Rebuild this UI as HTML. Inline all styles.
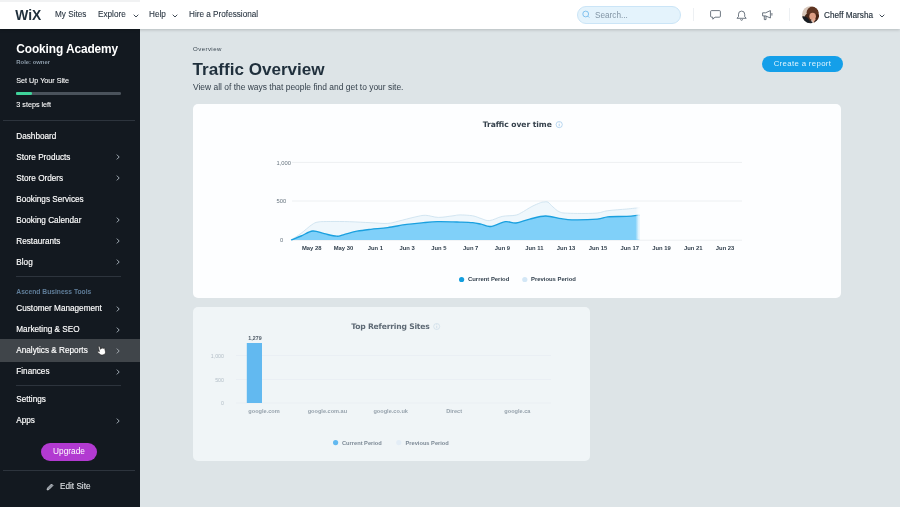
<!DOCTYPE html>
<html><head><meta charset="utf-8">
<style>
*{box-sizing:border-box;margin:0;padding:0}
html,body{width:900px;height:507px;overflow:hidden;background:#dde4e7;font-family:"Liberation Sans",sans-serif;color:#162d3d}
#top{position:absolute;left:0;top:0;width:900px;height:29px;background:#fff;box-shadow:0 1px 3px rgba(0,0,0,.18);z-index:5}
#top .t{position:absolute;top:10.2px;font-size:8.2px;color:#2b3743;white-space:nowrap;line-height:10px;-webkit-text-stroke:0.1px #2b3743}
#side{position:absolute;left:0;top:29px;width:140px;height:478px;background:#131920}
#side .m{position:absolute;left:16.3px;font-size:8.2px;color:#fff;white-space:nowrap;line-height:10px;-webkit-text-stroke:0.15px #fff}
#side .ch{position:absolute;left:115.9px;width:4px;height:6px}
.hr{position:absolute;left:2.5px;width:132px;height:1px;background:#2d343d}
.card{position:absolute;background:#fff;border-radius:6px}
svg text{font-family:"Liberation Sans",sans-serif}
svg text.dj{font-family:"DejaVu Sans","Liberation Sans",sans-serif}
</style></head><body>

<div id="top">
  <div style="position:absolute;left:0;top:0;width:140px;height:1.5px;background:#f1f2f3"></div>
  <svg style="position:absolute;left:15px;top:8px" width="28" height="14" viewBox="0 0 28 14"><text x="0.3" y="12.1" font-size="14" font-weight="bold" fill="#20303c" textLength="26" lengthAdjust="spacingAndGlyphs">WiX</text></svg>
  <div class="t" style="left:55px">My Sites</div>
  <div class="t" style="left:98px">Explore</div>
  <svg style="position:absolute;left:133px;top:13.6px" width="6" height="4" viewBox="0 0 6 4"><path d="M0.7 0.7L3 3L5.3 0.7" fill="none" stroke="#2b3743" stroke-width="0.9"/></svg>
  <div class="t" style="left:149px">Help</div>
  <svg style="position:absolute;left:172px;top:13.6px" width="6" height="4" viewBox="0 0 6 4"><path d="M0.7 0.7L3 3L5.3 0.7" fill="none" stroke="#2b3743" stroke-width="0.9"/></svg>
  <div class="t" style="left:189px">Hire a Professional</div>

  <div style="position:absolute;left:577px;top:5.9px;width:104px;height:17.7px;border-radius:9px;background:#e4f3fc;border:1px solid #cbe5f7"></div>
  <svg style="position:absolute;left:582px;top:10px" width="9" height="9" viewBox="0 0 9 9"><circle cx="3.7" cy="4" r="2.9" fill="none" stroke="#62b1ea" stroke-width="0.75"/><path d="M5.8 6.100L7.300 7.600" stroke="#62b1ea" stroke-width="0.75"/></svg>
  <div class="t" style="left:595px;top:10.6px;color:#8295a5;-webkit-text-stroke:0">Search...</div>
  <div style="position:absolute;left:692.5px;top:8px;width:1px;height:13px;background:#edf0f3"></div>
  <svg style="position:absolute;left:710px;top:10.2px" width="11" height="10" viewBox="0 0 11 10"><path d="M1.6 0.6h7.8a1 1 0 0 1 1 1v4.6a1 1 0 0 1-1 1H5L2.8 9.200V7.200H1.600a1 1 0 0 1-1-1V1.600a1 1 0 0 1 1-1z" fill="none" stroke="#4a5662" stroke-width="0.8" stroke-linejoin="round"/></svg>
  <svg style="position:absolute;left:736px;top:10px" width="11" height="11" viewBox="0 0 11 11"><path d="M1 8.300h9.200L8.700 6.500V4.200a3.100 3.100 0 0 0-6.200 0v2.300z" fill="none" stroke="#4a5662" stroke-width="0.8" stroke-linejoin="round"/><path d="M4.600 9.300a1 1 0 0 0 2 0" fill="none" stroke="#4a5662" stroke-width="0.8"/></svg>
  <svg style="position:absolute;left:761.500px;top:10.300px" width="11" height="11" viewBox="0 0 11 11"><path d="M0.600 2.800h3L8.400 0.600v7.400L3.600 5.900H0.600z M2.300 6v3.600h1.700V6" fill="none" stroke="#4a5662" stroke-width="0.8" stroke-linejoin="round"/><path d="M9.900 3v2.600" stroke="#4a5662" stroke-width="0.8"/></svg>
  <div style="position:absolute;left:788.700px;top:8px;width:1px;height:13px;background:#edf0f3"></div>
  <svg style="position:absolute;left:801.7px;top:6.3px" width="17.2" height="17.4" viewBox="0 0 34 34"><defs><clipPath id="av"><circle cx="17" cy="17" r="17"/></clipPath><filter id="bl"><feGaussianBlur stdDeviation="1.2"/></filter></defs><g clip-path="url(#av)"><rect width="34" height="34" fill="#d8c8bc"/><g filter="url(#bl)"><ellipse cx="21" cy="13" rx="12" ry="12" fill="#5e3622"/><ellipse cx="12" cy="24" rx="7" ry="9" fill="#4a2a1c"/><ellipse cx="30" cy="24" rx="5" ry="9" fill="#4a2818"/><ellipse cx="21" cy="20" rx="6.5" ry="7" fill="#dd9d82"/><ellipse cx="24" cy="28" rx="3" ry="5" fill="#e3a88f"/><path d="M-2 21C7 18 14 23 18 36L-2 36z" fill="#181b22"/><path d="M14 30C18 28 20 30 22 36L12 36z" fill="#20222a"/><ellipse cx="30" cy="32" rx="6" ry="5" fill="#2a1a16"/></g></g></svg>
  <div class="t" style="left:824px;top:10.9px;color:#25313c;-webkit-text-stroke:0.15px #25313c">Cheff Marsha</div>
  <svg style="position:absolute;left:879px;top:13.6px" width="6" height="4" viewBox="0 0 6 4"><path d="M0.7 0.7L3 3L5.3 0.7" fill="none" stroke="#2b3743" stroke-width="0.9"/></svg>
</div>

<div id="side">
  <div class="m" style="top:12.5px;font-size:11.9px;font-weight:bold;line-height:14px;letter-spacing:-0.1px;-webkit-text-stroke:0">Cooking Academy</div>
  <div class="m" style="top:30px;font-size:5.9px;color:#8b9aa8;font-weight:bold;line-height:7px;-webkit-text-stroke:0">Role: owner</div>
  <div class="m" style="top:47.8px;font-size:7.2px;line-height:8px;-webkit-text-stroke:0.08px #fff">Set Up Your Site</div>
  <div style="position:absolute;left:16.3px;top:63.200px;width:104.5px;height:2.5px;border-radius:1.3px;background:#4a525b"></div>
  <div style="position:absolute;left:16.3px;top:63.200px;width:16px;height:2.5px;border-radius:1.3px;background:#3fd39a"></div>
  <div class="m" style="top:71.5px;font-size:7.2px;line-height:8px;-webkit-text-stroke:0.08px #fff">3 steps left</div>
  <div class="hr" style="top:91px"></div>

  <div class="m" style="top:103.1px">Dashboard</div>
  <div class="m" style="top:124.1px">Store Products</div>
  <div class="m" style="top:145.1px">Store Orders</div>
  <div class="m" style="top:166.1px">Bookings Services</div>
  <div class="m" style="top:187.1px">Booking Calendar</div>
  <div class="m" style="top:208.1px">Restaurants</div>
  <div class="m" style="top:229.1px">Blog</div>
  <div class="hr" style="top:247px;left:16px;width:105px"></div>
  <div class="m" style="top:259px;font-size:6.7px;font-weight:bold;color:#5f7d99;line-height:8px;-webkit-text-stroke:0">Ascend Business Tools</div>
  <div class="m" style="top:275px">Customer Management</div>
  <div class="m" style="top:296.3px">Marketing &amp; SEO</div>
  <div style="position:absolute;left:0;top:309.8px;width:140px;height:23px;background:#40454a"></div>
  <div class="m" style="top:317.3px">Analytics &amp; Reports</div>
  <svg style="position:absolute;left:96px;top:316.3px;transform:rotate(-14deg)" width="10" height="11" viewBox="0 0 10 11"><path d="M3.2 6.2V1.6a.8.8 0 0 1 1.6 0v2.6l.2-.5a.75.75 0 0 1 1.4.2l.2-.2a.7.7 0 0 1 1.3.4l.2-.1a.65.65 0 0 1 1 .6v2.6c0 1.8-1 3-2.8 3H5.4c-1 0-1.7-.5-2.3-1.400L1.300 6.700a.8.8 0 0 1 1.300-.9z" fill="#fff" stroke="#222" stroke-width="0.6" stroke-linejoin="round"/></svg>
  <div class="m" style="top:338px">Finances</div>
  <div class="hr" style="top:356px;left:16px;width:105px"></div>
  <div class="m" style="top:366.2px">Settings</div>
  <div class="m" style="top:387.2px">Apps</div>
    <svg class="ch" style="top:125.1px" viewBox="0 0 4 6"><path d="M0.8 0.6L3.2 3L0.8 5.4" fill="none" stroke="#aab3bc" stroke-width="0.95"/></svg>
  <svg class="ch" style="top:146.1px" viewBox="0 0 4 6"><path d="M0.8 0.6L3.2 3L0.8 5.4" fill="none" stroke="#aab3bc" stroke-width="0.95"/></svg>
  <svg class="ch" style="top:188.1px" viewBox="0 0 4 6"><path d="M0.8 0.6L3.2 3L0.8 5.4" fill="none" stroke="#aab3bc" stroke-width="0.95"/></svg>
  <svg class="ch" style="top:209.1px" viewBox="0 0 4 6"><path d="M0.8 0.6L3.2 3L0.8 5.4" fill="none" stroke="#aab3bc" stroke-width="0.95"/></svg>
  <svg class="ch" style="top:230.1px" viewBox="0 0 4 6"><path d="M0.8 0.6L3.2 3L0.8 5.4" fill="none" stroke="#aab3bc" stroke-width="0.95"/></svg>
  <svg class="ch" style="top:276.5px" viewBox="0 0 4 6"><path d="M0.8 0.6L3.2 3L0.8 5.4" fill="none" stroke="#aab3bc" stroke-width="0.95"/></svg>
  <svg class="ch" style="top:297.8px" viewBox="0 0 4 6"><path d="M0.8 0.6L3.2 3L0.8 5.4" fill="none" stroke="#aab3bc" stroke-width="0.95"/></svg>
  <svg class="ch" style="top:318.8px" viewBox="0 0 4 6"><path d="M0.8 0.6L3.2 3L0.8 5.4" fill="none" stroke="#a4aab0" stroke-width="1"/></svg>
  <svg class="ch" style="top:339.5px" viewBox="0 0 4 6"><path d="M0.8 0.6L3.2 3L0.8 5.4" fill="none" stroke="#aab3bc" stroke-width="0.95"/></svg>
  <svg class="ch" style="top:389.2px" viewBox="0 0 4 6"><path d="M0.8 0.6L3.2 3L0.8 5.4" fill="none" stroke="#aab3bc" stroke-width="0.95"/></svg>
  <div style="position:absolute;left:41px;top:414.1px;width:56px;height:17.6px;border-radius:9px;background:#b23ad1;color:#fff;font-size:8.3px;text-align:center;line-height:17.6px">Upgrade</div>
  <div class="hr" style="top:441px"></div>
  <svg style="position:absolute;left:46px;top:454px" width="8" height="8" viewBox="0 0 8 8"><path d="M1 7l.5-2L5.500 1 7 2.500 3 6.500z" fill="#8f979f" stroke="#d5d9dd" stroke-width="0.7" stroke-linejoin="round"/></svg>
  <div class="m" style="left:60px;top:453px;color:#dde0e4;-webkit-text-stroke:0.1px #dde0e4">Edit Site</div>
</div>

<div style="position:absolute;left:193px;top:44.5px;font-size:6.1px;letter-spacing:0.42px;color:#3a4651;line-height:8px">Overview</div>
<div style="position:absolute;left:192.6px;top:59.5px;font-size:17.1px;font-weight:bold;color:#1f2f3c;line-height:20px;white-space:nowrap">Traffic Overview</div>
<div style="position:absolute;left:193px;top:81.7px;font-size:8.45px;letter-spacing:0;color:#36424d;line-height:10px;white-space:nowrap">View all of the ways that people find and get to your site.</div>
<div style="position:absolute;left:762px;top:55.6px;width:81px;height:16.8px;border-radius:9px;background:#149fe9;color:#def3fd;font-size:7.8px;letter-spacing:0.35px;text-align:center;line-height:16.8px;white-space:nowrap">Create a report</div>

<div class="card" id="c1" style="left:193.3px;top:104.4px;width:648px;height:193.3px;border-radius:5px;background:#fdfeff">
<svg width="648" height="193" viewBox="0 0 648 193" style="position:absolute;left:-0.3px;top:-0.4px">
<defs><linearGradient id="fade" x1="0" x2="1" y1="0" y2="0"><stop offset="0" stop-color="#fff" stop-opacity="0"/><stop offset="1" stop-color="#fff" stop-opacity="1"/></linearGradient></defs>
<text x="324.3" y="23.2" font-size="7.6" font-weight="bold" fill="#36424d" text-anchor="middle" class="dj" textLength="69">Traffic over time</text>
<circle cx="366.2" cy="20.6" r="3.1" fill="none" stroke="#8fc0e8" stroke-width="0.6"/><path d="M366.2 20v2.3M366.2 18.6v0.7" stroke="#8fc0e8" stroke-width="0.7"/>
<path d="M99 58.4H549" stroke="#edf0f2" stroke-width="1"/>
<path d="M99 97.0H549" stroke="#edf0f2" stroke-width="1"/>
<path d="M99 136.2H549" stroke="#edf0f2" stroke-width="1"/>
<path d="M98.0 136.0 C99.7 134.9 104.6 131.9 108.1 129.3 C111.6 126.7 115.8 122.7 118.7 120.8 C121.6 118.9 121.8 118.6 125.0 118.0 C128.2 117.4 132.3 117.6 137.7 117.5 C143.1 117.4 149.9 117.5 156.7 117.7 C163.5 117.9 171.3 118.4 177.8 118.7 C184.3 119.0 190.0 119.7 194.7 119.4 C199.4 119.1 200.6 118.3 205.2 117.2 C209.8 116.1 217.3 114.0 222.0 113.0 C226.7 112.0 228.7 111.2 232.7 111.3 C236.7 111.4 240.7 113.3 245.3 113.4 C249.9 113.5 256.3 112.2 260.0 111.8 C263.7 111.4 263.7 110.9 267.0 110.9 C270.3 110.9 276.1 111.2 279.7 111.8 C283.3 112.4 285.1 113.7 288.0 114.5 C290.9 115.3 293.0 117.0 296.6 116.6 C300.2 116.2 304.9 113.3 309.2 112.4 C313.5 111.5 318.7 111.9 321.9 111.3 C325.1 110.7 325.3 110.3 328.2 108.8 C331.1 107.3 335.5 104.2 338.8 102.5 C342.1 100.8 345.4 99.5 347.5 98.7 C349.6 97.9 349.7 98.1 351.0 98.0 C352.3 97.9 353.5 97.4 355.0 98.2 C356.5 99.0 358.0 101.3 359.9 102.9 C361.8 104.5 363.7 106.6 366.2 107.7 C368.7 108.8 368.6 108.9 374.7 109.2 C380.8 109.5 395.3 109.6 402.1 109.2 C408.9 108.8 409.4 107.4 414.8 106.7 C420.2 106.0 428.4 105.5 433.8 105.0 C439.2 104.5 444.3 103.9 446.4 103.7 L446.4 136.0 L98 136.0 Z" fill="#eff7fc"/>
<path d="M98.0 136.0 C99.7 134.9 104.6 131.9 108.1 129.3 C111.6 126.7 115.8 122.7 118.7 120.8 C121.6 118.9 121.8 118.6 125.0 118.0 C128.2 117.4 132.3 117.6 137.7 117.5 C143.1 117.4 149.9 117.5 156.7 117.7 C163.5 117.9 171.3 118.4 177.8 118.7 C184.3 119.0 190.0 119.7 194.7 119.4 C199.4 119.1 200.6 118.3 205.2 117.2 C209.8 116.1 217.3 114.0 222.0 113.0 C226.7 112.0 228.7 111.2 232.7 111.3 C236.7 111.4 240.7 113.3 245.3 113.4 C249.9 113.5 256.3 112.2 260.0 111.8 C263.7 111.4 263.7 110.9 267.0 110.9 C270.3 110.9 276.1 111.2 279.7 111.8 C283.3 112.4 285.1 113.7 288.0 114.5 C290.9 115.3 293.0 117.0 296.6 116.6 C300.2 116.2 304.9 113.3 309.2 112.4 C313.5 111.5 318.7 111.9 321.9 111.3 C325.1 110.7 325.3 110.3 328.2 108.8 C331.1 107.3 335.5 104.2 338.8 102.5 C342.1 100.8 345.4 99.5 347.5 98.7 C349.6 97.9 349.7 98.1 351.0 98.0 C352.3 97.9 353.5 97.4 355.0 98.2 C356.5 99.0 358.0 101.3 359.9 102.9 C361.8 104.5 363.7 106.6 366.2 107.7 C368.7 108.8 368.6 108.9 374.7 109.2 C380.8 109.5 395.3 109.6 402.1 109.2 C408.9 108.8 409.4 107.4 414.8 106.7 C420.2 106.0 428.4 105.5 433.8 105.0 C439.2 104.5 444.3 103.9 446.4 103.7" fill="none" stroke="#c9dfed" stroke-width="0.8"/>
<path d="M98.0 136.0 C99.7 135.3 104.4 133.5 108.1 132.0 C111.8 130.5 115.8 127.4 119.7 127.0 C123.6 126.6 127.2 128.8 131.3 129.7 C135.4 130.6 140.4 132.0 143.6 132.2 C146.8 132.4 146.8 131.7 150.3 130.8 C153.8 130.0 159.3 128.1 164.0 127.2 C168.7 126.3 172.6 125.9 177.8 125.3 C183.0 124.7 188.6 124.4 194.7 123.6 C200.8 122.8 207.6 121.2 213.7 120.4 C219.8 119.6 225.3 119.2 230.5 118.7 C235.7 118.2 239.3 117.8 244.3 117.7 C249.3 117.6 256.2 117.8 260.1 117.9 C264.0 118.0 263.7 118.0 267.0 118.1 C270.3 118.2 276.1 118.3 279.7 118.7 C283.3 119.1 285.1 119.6 288.1 120.2 C291.1 120.8 293.5 122.9 297.6 122.5 C301.7 122.1 308.1 118.3 312.4 117.7 C316.7 117.1 318.9 119.4 323.0 119.0 C327.1 118.6 331.7 116.3 336.7 115.1 C341.7 113.9 347.1 112.1 352.5 112.0 C357.9 111.9 363.8 114.1 368.3 114.7 C372.8 115.3 372.8 115.7 378.9 115.8 C385.0 115.9 398.1 115.6 404.2 115.1 C410.3 114.6 409.8 113.3 414.8 112.8 C419.8 112.3 428.4 112.7 433.8 112.4 C439.2 112.1 444.3 111.3 446.4 111.1 L446.4 136.0 L98 136.0 Z" fill="#80d0f9"/>
<path d="M98.0 136.0 C99.7 135.3 104.4 133.5 108.1 132.0 C111.8 130.5 115.8 127.4 119.7 127.0 C123.6 126.6 127.2 128.8 131.3 129.7 C135.4 130.6 140.4 132.0 143.6 132.2 C146.8 132.4 146.8 131.7 150.3 130.8 C153.8 130.0 159.3 128.1 164.0 127.2 C168.7 126.3 172.6 125.9 177.8 125.3 C183.0 124.7 188.6 124.4 194.7 123.6 C200.8 122.8 207.6 121.2 213.7 120.4 C219.8 119.6 225.3 119.2 230.5 118.7 C235.7 118.2 239.3 117.8 244.3 117.7 C249.3 117.6 256.2 117.8 260.1 117.9 C264.0 118.0 263.7 118.0 267.0 118.1 C270.3 118.2 276.1 118.3 279.7 118.7 C283.3 119.1 285.1 119.6 288.1 120.2 C291.1 120.8 293.5 122.9 297.6 122.5 C301.7 122.1 308.1 118.3 312.4 117.7 C316.7 117.1 318.9 119.4 323.0 119.0 C327.1 118.6 331.7 116.3 336.7 115.1 C341.7 113.9 347.1 112.1 352.5 112.0 C357.9 111.9 363.8 114.1 368.3 114.7 C372.8 115.3 372.8 115.7 378.9 115.8 C385.0 115.9 398.1 115.6 404.2 115.1 C410.3 114.6 409.8 113.3 414.8 112.8 C419.8 112.3 428.4 112.7 433.8 112.4 C439.2 112.1 444.3 111.3 446.4 111.1" fill="none" stroke="#1aa0df" stroke-width="1.35" stroke-linejoin="round"/>
<rect x="442.4" y="101.5" width="4.2" height="34.2" fill="url(#fade)"/>
<text x="83.5" y="60.6" font-size="5.8" fill="#67747f">1,000</text>
<text x="83.5" y="98.6" font-size="5.8" fill="#67747f">500</text>
<text x="87.0" y="138.4" font-size="5.8" fill="#67747f">0</text>
<text x="118.7" y="145.6" font-size="5.85" font-weight="bold" fill="#33414e" text-anchor="middle">May 28</text>
<text x="150.5" y="145.6" font-size="5.85" font-weight="bold" fill="#33414e" text-anchor="middle">May 30</text>
<text x="182.3" y="145.6" font-size="5.85" font-weight="bold" fill="#33414e" text-anchor="middle">Jun 1</text>
<text x="214.1" y="145.6" font-size="5.85" font-weight="bold" fill="#33414e" text-anchor="middle">Jun 3</text>
<text x="245.9" y="145.6" font-size="5.85" font-weight="bold" fill="#33414e" text-anchor="middle">Jun 5</text>
<text x="277.7" y="145.6" font-size="5.85" font-weight="bold" fill="#33414e" text-anchor="middle">Jun 7</text>
<text x="309.5" y="145.6" font-size="5.85" font-weight="bold" fill="#33414e" text-anchor="middle">Jun 9</text>
<text x="341.3" y="145.6" font-size="5.85" font-weight="bold" fill="#33414e" text-anchor="middle">Jun 11</text>
<text x="373.1" y="145.6" font-size="5.85" font-weight="bold" fill="#33414e" text-anchor="middle">Jun 13</text>
<text x="404.9" y="145.6" font-size="5.85" font-weight="bold" fill="#33414e" text-anchor="middle">Jun 15</text>
<text x="436.7" y="145.6" font-size="5.85" font-weight="bold" fill="#33414e" text-anchor="middle">Jun 17</text>
<text x="468.5" y="145.6" font-size="5.85" font-weight="bold" fill="#33414e" text-anchor="middle">Jun 19</text>
<text x="500.3" y="145.6" font-size="5.85" font-weight="bold" fill="#33414e" text-anchor="middle">Jun 21</text>
<text x="532.1" y="145.6" font-size="5.85" font-weight="bold" fill="#33414e" text-anchor="middle">Jun 23</text>
<circle cx="268.6" cy="175.5" r="2.6" fill="#139ede"/><text x="275" y="177.3" font-size="5.9" font-weight="bold" fill="#33414e">Current Period</text>
<circle cx="331.8" cy="175.5" r="2.6" fill="#d3e7f6"/><text x="338" y="177.3" font-size="5.9" font-weight="bold" fill="#33414e">Previous Period</text>
</svg>
</div>
<div class="card" id="c2" style="left:193.2px;top:307px;width:396.8px;height:153.7px;border-radius:5px;background:#f0f5f7">
<svg width="396" height="153" viewBox="0 0 396 153" style="position:absolute;left:-0.2px;top:0">
<text x="197.5" y="22.2" font-size="7.6" font-weight="bold" fill="#5e6a75" text-anchor="middle" class="dj" textLength="78.6">Top Referring Sites</text>
<circle cx="243.7" cy="19.5" r="3" fill="none" stroke="#c4d6e4" stroke-width="0.6"/><path d="M243.7 18.8v2.4M243.7 17.4v0.7" stroke="#c4d6e4" stroke-width="0.7"/>
<path d="M43 48.5H358" stroke="#e9eef2" stroke-width="0.8"/>
<path d="M43 72.5H358" stroke="#e9eef2" stroke-width="0.8"/>
<path d="M43 96.0H358" stroke="#e9eef2" stroke-width="0.8"/>
<rect x="53.8" y="36" width="15.2" height="60" fill="#62b9f0"/>
<text x="62" y="32.6" font-size="5.3" font-weight="bold" fill="#4d5965" text-anchor="middle">1,279</text>
<text x="31" y="50.5" font-size="5.3" fill="#b3bec7" text-anchor="end">1,000</text>
<text x="31" y="74.5" font-size="5.3" fill="#b3bec7" text-anchor="end">500</text>
<text x="31" y="98.0" font-size="5.3" fill="#b3bec7" text-anchor="end">0</text>
<text x="71.0" y="105.8" font-size="5.6" font-weight="bold" fill="#97a3ad" text-anchor="middle">google.com</text>
<text x="134.4" y="105.8" font-size="5.6" font-weight="bold" fill="#97a3ad" text-anchor="middle">google.com.au</text>
<text x="197.7" y="105.8" font-size="5.6" font-weight="bold" fill="#97a3ad" text-anchor="middle">google.co.uk</text>
<text x="261.1" y="105.8" font-size="5.6" font-weight="bold" fill="#97a3ad" text-anchor="middle">Direct</text>
<text x="324.4" y="105.8" font-size="5.6" font-weight="bold" fill="#97a3ad" text-anchor="middle">google.ca</text>
<circle cx="142.6" cy="135.6" r="2.6" fill="#62b9f0"/><text x="149" y="137.7" font-size="5.7" font-weight="bold" fill="#7c8995">Current Period</text>
<circle cx="205.8" cy="135.6" r="2.6" fill="#e3edf6"/><text x="212.5" y="137.7" font-size="5.7" font-weight="bold" fill="#7c8995">Previous Period</text>
</svg>
</div>
</body></html>
